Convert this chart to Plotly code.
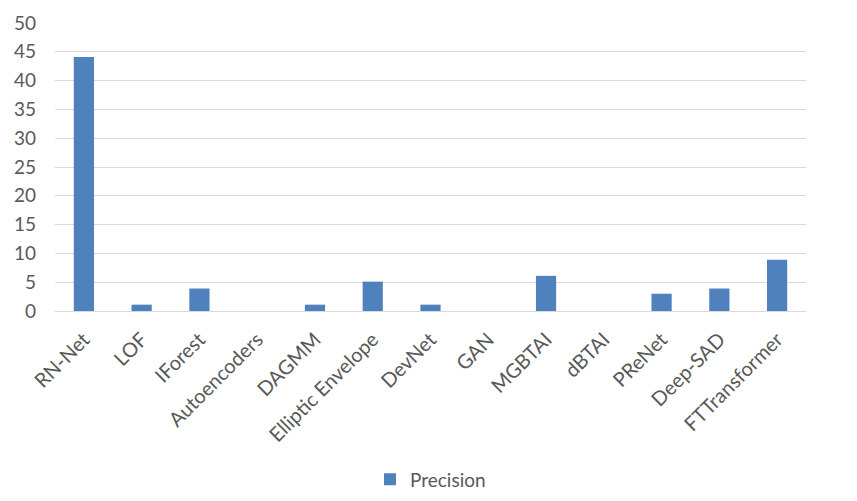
import plotly.graph_objects as go

methods = ['RN-Net', 'LOF', 'IForest', 'Autoencoders', 'DAGMM', 'Elliptic Envelope', 'DevNet',
           'GAN', 'MGBTAI', 'dBTAI', 'PReNet', 'Deep-SAD', 'FTTransformer']
precision = [44.1, 1.1, 3.9, 0, 1.1, 5.1, 1.1, 0, 6.1, 0, 3.0, 3.9, 8.9]
y_ticks = [0, 5, 10, 15, 20, 25, 30, 35, 40, 45, 50]

font = 'Lato, "Open Sans", sans-serif'

fig = go.Figure()
fig.add_trace(go.Bar(x=methods, y=precision, name='Precision',
                     marker=dict(color='#4F81BD', line=dict(width=0))))

# page body adds an 8px offset, so margins are shifted to compensate
fig.update_layout(
    width=857, height=501,
    margin=dict(l=47, r=59, t=15, b=198, autoexpand=False),
    plot_bgcolor='white', paper_bgcolor='white',
    bargap=0.65,
    showlegend=True,
    legend=dict(orientation='h', x=0.5, xanchor='center', y=-0.585, yanchor='middle',
                font=dict(family=font, size=19, color='#595959')),
    font=dict(family=font, size=19, color='#595959'),
)
fig.update_xaxes(tickangle=-45, showline=True, linecolor='#d9d9d9', linewidth=1, automargin=False,
                 ticks='', ticklabelstandoff=8, tickfont=dict(size=20, color='#595959'))
fig.update_yaxes(range=[0, 50], tickvals=y_ticks, showgrid=True, gridcolor='#d9d9d9', gridwidth=1,
                 zeroline=False, showline=False, ticks='', ticklabelstandoff=18, automargin=False,
                 tickfont=dict(size=19, color='#595959'))

fig.write_html("out.html")
